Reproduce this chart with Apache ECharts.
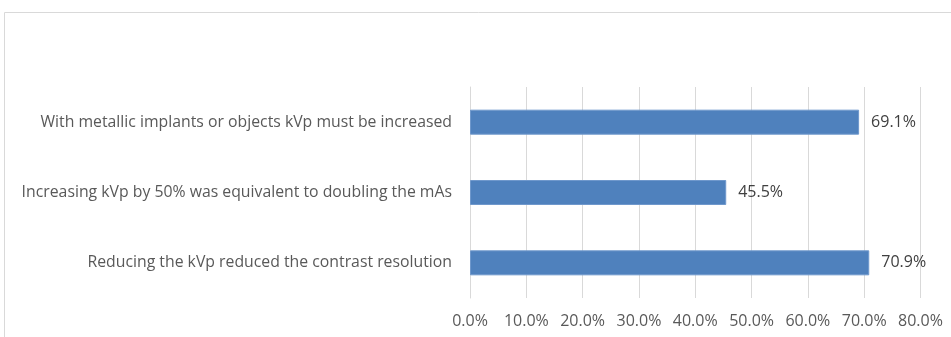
<!DOCTYPE html>
<html><head><meta charset="utf-8">
<script src="https://cdn.jsdelivr.net/npm/echarts@6/dist/echarts.min.js"></script>
<style>html,body{margin:0;padding:0;background:#fff}#c{width:951px;height:337px}</style>
</head><body><div id="c"></div>
<script>
const categories = [
  "With metallic implants or objects kVp must be increased",
  "Increasing kVp by 50% was equivalent to doubling the mAs",
  "Reducing the kVp reduced the contrast resolution"
];
const values = [69.1, 45.5, 70.9];
const tickMin = 0, tickMax = 80, tickStep = 10;

const chart = echarts.init(document.getElementById('c'));
const font = "'Open Sans', 'Noto Sans', sans-serif";
chart.setOption({
  animation: false,
  graphic: [{type:'rect', shape:{x:4.5, y:12.5, width:1200, height:600}, style:{fill:'none', stroke:'#d9d9d9', lineWidth:1}, silent:true}],
  grid: {left: 470, right: 30.5, top: 87, bottom: 39},
  xAxis: {
    type: 'value', min: tickMin, max: tickMax, interval: tickStep,
    axisLine: {show: false}, axisTick: {show: false},
    splitLine: {lineStyle: {color: '#d9d9d9', width: 1}},
    axisLabel: {formatter: v => v.toFixed(1) + '%', color: '#595959', fontFamily: font, fontSize: 16, margin: 15}
  },
  yAxis: {
    type: 'category', data: categories, inverse: true,
    axisLine: {show: true, lineStyle: {color: '#d9d9d9'}}, axisTick: {show: false},
    axisLabel: {color: '#595959', fontFamily: font, fontSize: 15.8, margin: 18}
  },
  series: [{
    type: 'bar', data: values, barWidth: 25,
    itemStyle: {color: '#4f81bd', borderColor: '#6f98cc', borderWidth: 1},
    label: {show: true, position: 'right', distance: 12, formatter: p => p.value.toFixed(1) + '%', color: '#404040', fontFamily: font, fontSize: 16}
  }]
});
</script></body></html>
